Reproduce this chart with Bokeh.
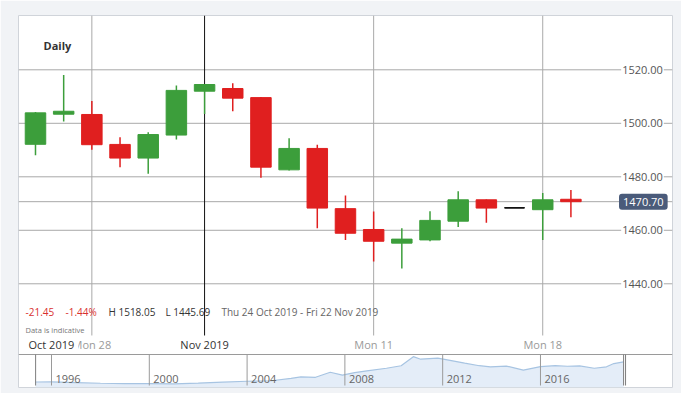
from bokeh.plotting import figure
from bokeh.models import Range1d, Label, ColumnDataSource
from bokeh.core.properties import value
from bokeh.embed import file_html
from bokeh.resources import INLINE

# ---------------- data ----------------
idx = list(range(20))
opens  = [1492.15, 1503.4, 1503.3, 1492.1, 1487.0, 1495.6, 1512.0, 1513.0, 1509.6, 1482.6,
          1490.6, 1468.1, 1460.3, 1455.2, 1456.4, 1463.4, 1471.4, 1468.4, 1467.7, 1471.6]
highs  = [1504.2, 1518.05, 1508.3, 1494.8, 1496.7, 1514.1, 1514.6, 1515.0, 1509.8, 1494.4,
          1492.0, 1473.0, 1467.0, 1460.8, 1467.1, 1474.6, 1471.5, 1468.4, 1473.9, 1475.1]
lows   = [1488.1, 1500.7, 1490.1, 1483.6, 1481.1, 1493.9, 1503.5, 1504.5, 1479.6, 1482.4,
          1460.8, 1456.4, 1448.3, 1445.69, 1455.9, 1461.2, 1462.8, 1468.4, 1456.4, 1464.9]
closes = [1503.9, 1504.5, 1492.0, 1487.0, 1495.8, 1512.3, 1514.5, 1509.4, 1483.6, 1490.6,
          1468.3, 1458.9, 1455.9, 1456.7, 1463.7, 1471.4, 1468.3, 1468.4, 1471.4, 1470.70]

y_ticks = [1440, 1460, 1480, 1500, 1520]
y_tick_labels = ["1440.00", "1460.00", "1480.00", "1500.00", "1520.00"]

x_tick_idx = [2, 6, 12, 18]
x_tick_labels = ["Mon 28", "Nov 2019", "Mon 11", "Mon 18"]
x_tick_major = [False, True, False, False]
first_label = "Oct 2019"

last_price = 1470.70
change_abs = "-21.45"
change_pct = "-1.44%"
period_high = "H 1518.05"
period_low = "L 1445.69"
period_text = "Thu 24 Oct 2019 - Fri 22 Nov 2019"

nav_years = [1995.35, 1996.0, 1997.0, 1998.0, 1999.0, 2000.0, 2001.0, 2002.0, 2003.0, 2004.0,
             2005.0, 2005.8, 2006.2, 2006.8, 2007.4, 2007.9, 2008.4, 2008.9, 2009.7, 2010.3,
             2010.8, 2011.1, 2011.8, 2012.3, 2012.9, 2013.5, 2013.95, 2014.6, 2015.3, 2016.0,
             2016.6, 2017.1, 2017.6, 2018.2, 2018.7, 2019.0, 2019.4]
nav_values = [360, 370, 330, 290, 270, 275, 255, 300, 350, 400,
              430, 560, 640, 620, 900, 740, 880, 980, 1120, 1260,
              1760, 1620, 1680, 1560, 1400, 1260, 1200, 1240, 1020, 1210,
              1260, 1230, 1250, 1120, 1200, 1380, 1470]
nav_tick_years = [1996, 2000, 2004, 2008, 2012, 2016]

# ---------------- styles ----------------
GREEN = "#3c9e3b"
RED = "#e01f1f"
GRID = "#a9a9a9"
FONT = "Open Sans"

colors = []
for o, c in zip(opens, closes):
    colors.append(GREEN if c > o else (RED if c < o else "#111111"))

src = ColumnDataSource(dict(
    x=idx, open=opens, close=closes, high=highs, low=lows,
    top=[max(o, c) for o, c in zip(opens, closes)],
    bottom=[min(o, c) for o, c in zip(opens, closes)],
    color=colors,
))

X0, X1 = -0.603, 22.605
Y0, Y1 = 1401.23, 1540.30
NAV_LO, NAV_HI = 55.4, 20630
NAV_TOP = 1880
NAV_X0, NAV_X1 = 1994.65, 2021.40

p = figure(width=681, height=393, output_backend="svg", toolbar_location=None,
           x_range=Range1d(X0, X1), y_range=Range1d(Y0, Y1),
           min_border_left=18, min_border_right=9, min_border_top=15, min_border_bottom=6)
p.extra_x_ranges = {"navx": Range1d(NAV_X0, NAV_X1)}
p.extra_y_ranges = {"navy": Range1d(NAV_LO, NAV_HI)}
p.xaxis.visible = False
p.yaxis.visible = False
p.xgrid.visible = False
p.ygrid.visible = False
p.border_fill_color = "#f1f3f6"
p.background_fill_color = "white"
p.outline_line_color = "#d0d4da"

# horizontal grid lines
p.segment(x0=[X0] * len(y_ticks), y0=y_ticks, x1=[X1] * len(y_ticks), y1=y_ticks,
          line_color=GRID, line_width=1)
# last price line
p.segment(x0=[X0], y0=[last_price], x1=[X1], y1=[last_price], line_color=GRID, line_width=1)

# vertical grid lines
grid_bottom = 1420.67
for xi, major in zip(x_tick_idx, x_tick_major):
    p.segment(x0=[xi], y0=[grid_bottom], x1=[xi], y1=[Y1],
              line_color="#111111" if major else GRID, line_width=1)

# candles
p.segment(x0="x", y0="high", x1="x", y1="low", line_color="color", line_width=1.5, source=src)
p.vbar(x="x", width=0.727, top="top", bottom="bottom", fill_color="color",
       line_color="color", line_width=1, source=src)
doji_x = [i for i, o, c in zip(idx, opens, closes) if o == c]
doji_y = [o for o, c in zip(opens, closes) if o == c]
p.scatter(x=doji_x, y=doji_y, marker="dash", size=19, line_color="#111111", line_width=1.5)

# navigator
nav_base = [NAV_LO] * len(nav_years)
p.varea(x=nav_years, y1=nav_base, y2=nav_values, fill_color="#e4edf8",
        x_range_name="navx", y_range_name="navy")
p.line(x=nav_years, y=nav_values, line_color="#a7c4e2", line_width=1.2,
       x_range_name="navx", y_range_name="navy")
p.segment(x0=[NAV_X0], y0=[NAV_TOP], x1=[NAV_X1], y1=[NAV_TOP], line_color="#9a9a9a",
          line_width=1, x_range_name="navx", y_range_name="navy")
p.segment(x0=nav_tick_years, y0=[166] * len(nav_tick_years), x1=nav_tick_years,
          y1=[NAV_TOP] * len(nav_tick_years), line_color="#9a9a9a", line_width=1,
          x_range_name="navx", y_range_name="navy")
handles = [nav_years[0], nav_years[-1], nav_years[-1] + 0.08]
p.segment(x0=handles, y0=[166] * 3, x1=handles, y1=[NAV_TOP] * 3, line_color="#7d7d7d",
          line_width=1, x_range_name="navx", y_range_name="navy")
p.text(x=nav_tick_years, y=[525] * len(nav_tick_years), text=[str(y) for y in nav_tick_years],
       x_offset=4, text_baseline="middle", text_align="left", text_font=value(FONT),
       text_font_size="11px", text_color="#666666", x_range_name="navx", y_range_name="navy")

# title
p.add_layout(Label(x=0.284, y=1529.1, text="Daily", text_font=FONT, text_font_size="11px",
                   text_font_style="bold", text_color="#333333", text_baseline="middle"))

# y tick labels
for v, t in zip(y_ticks, y_tick_labels):
    p.add_layout(Label(x=21.54, y=v, text=t, text_align="center", text_baseline="middle",
                       text_font=FONT, text_font_size="11px", text_color="#555555",
                       background_fill_color="white", padding=1))

# last price badge
p.add_layout(Label(x=21.57, y=last_price, text=f"{last_price:.2f}", text_align="center",
                   text_baseline="middle", text_font=FONT, text_font_size="11px",
                   text_color="white", background_fill_color="#4a5b7a", padding=4,
                   border_radius=3))

# info row
info_y = 1429.27
info = [(-0.355, change_abs, "#d9302f"), (1.065, change_pct, "#d9302f"),
        (2.59, period_high, "#333333"), (4.61, period_low, "#333333"),
        (6.60, period_text, "#666666")]
for xx, t, col in info:
    p.add_layout(Label(x=xx, y=info_y, text=t, text_font=FONT, text_font_size="10px",
                       text_color=col, text_baseline="middle"))
p.add_layout(Label(x=-0.355, y=1422.9, text="Data is indicative", text_font=FONT,
                   text_font_size="7.5px", text_color="#777777", text_baseline="middle"))

# x tick labels
xlab_y = 1417.2
for xi, t, major in zip(x_tick_idx, x_tick_labels, x_tick_major):
    p.add_layout(Label(x=xi, y=xlab_y, text=t, text_align="center", text_baseline="middle",
                       text_font=FONT, text_font_size="11px",
                       text_color="#333333" if major else "#9a9a9a"))
p.add_layout(Label(x=-0.355, y=xlab_y, text=first_label, text_align="left",
                   text_baseline="middle", text_font=FONT, text_font_size="11px",
                   text_color="#333333", background_fill_color="white",
                   padding={"left": 3, "right": 4, "top": 1, "bottom": 1}))

open("out.html", "w").write(file_html(p, INLINE))
